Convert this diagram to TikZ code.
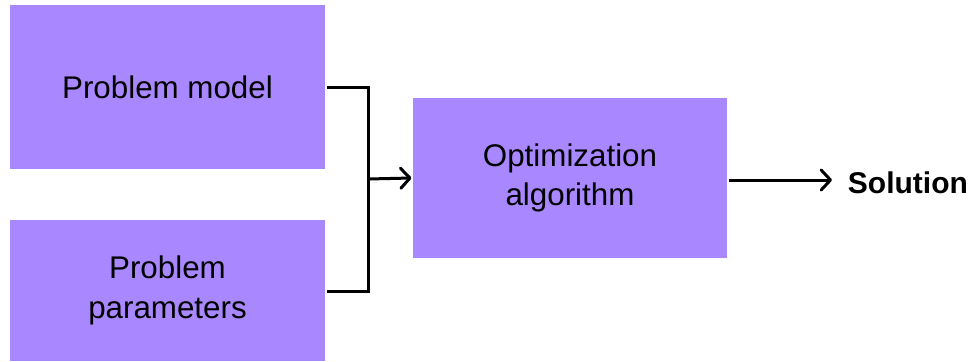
\documentclass[tikz,border=0pt]{standalone}
\usepackage{fontspec}
\setmainfont{Liberation Sans}
\usetikzlibrary{arrows.meta}
\definecolor{boxpurple}{HTML}{A987FF}
\begin{document}
\begin{tikzpicture}[x=0.75pt,y=-0.75pt,line width=2.25pt,
	>={Straight Barb[length=7pt,width=15pt,line join=round,line cap=round]},
	main node/.style={rectangle,fill=boxpurple,inner sep=0pt,align=center,
		font=\fontsize{23.5}{29.5}\selectfont}]
	\useasboundingbox (0,0) rectangle (969,361);

	\node[main node, minimum width=236.25pt, minimum height=123pt] (model) at (167.5,87) {Problem model};
	\node[main node, minimum width=236.25pt, minimum height=105.75pt] (params) at (167.5,290.5) {Problem\\parameters};
	\node[main node, minimum width=235.5pt, minimum height=120pt] (algo) at (570,178) {Optimization\\algorithm};
	\node[anchor=west, font=\fontsize{22.5}{27}\selectfont\bfseries] (sol) at (842,183) {Solution};

	\coordinate (join) at (368,179);
	\coordinate (tip) at (832,180);

	\draw[line join=miter] (model.east) -- (368,87) -- (368,291) -- (params.east |- 0,291);
	\draw[->] (join) -- (algo.west);
	\draw[->] (algo.east |- tip) -- (tip);
\end{tikzpicture}
\end{document}
